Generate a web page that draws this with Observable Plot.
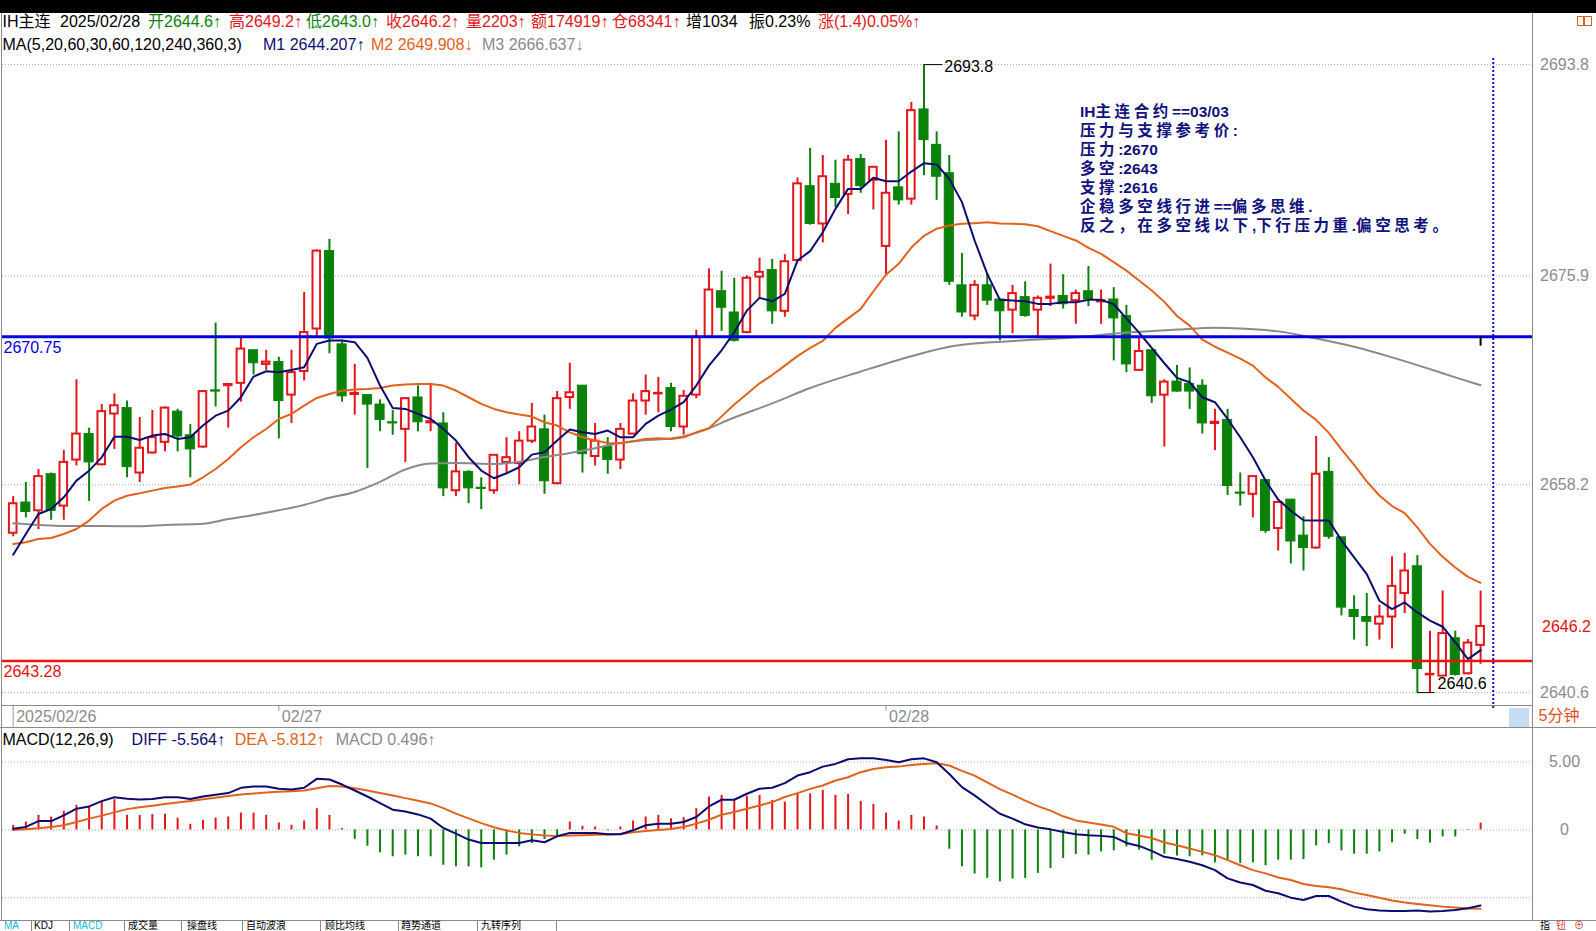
<!DOCTYPE html>
<html><head><meta charset="utf-8">
<script src="https://cdn.jsdelivr.net/npm/d3@7"></script>
<script src="https://cdn.jsdelivr.net/npm/@observablehq/plot@0.6"></script>
<style>
html,body{margin:0;padding:0;background:#fff;overflow:hidden;}
#page{position:relative;width:1596px;height:931px;overflow:hidden;background:#fff;font-family:"Liberation Sans",Arial,"Noto Sans CJK SC",sans-serif;}
.abs{position:absolute;white-space:nowrap;line-height:1;}
</style></head><body><div id="page"></div>
<script>
// ---------- DATA (5-minute bars, IH主连, 02/26 partial, 02/27, 02/28) ----------
const opens = [2654.1,2656.7,2656.0,2659.1,2656.4,2660.3,2662.5,2659.9,2664.2,2664.7,
2659.2,2660.9,2661.8,2664.4,2662.4,2661.4,2666.2,2666.6,2666.8,2669.6,
2668.4,2668.6,2665.8,2667.8,2671.4,2678.0,2670.1,2665.85,2665.8,2665.0,
2663.5,2662.9,2665.6,2663.45,2663.4,2657.7,2659.3,2657.95,2657.7,2660.1,
2660.0,2661.9,2662.9,2658.3,2665.6,2666.6,2660.6,2661.4,2660.3,2662.5,
2665.3,2665.9,2666.4,2663.1,2665.8,2670.7,2674.6,2672.8,2671.1,2675.8,
2676.4,2672.9,2677.2,2683.5,2680.3,2683.7,2682.8,2685.8,2684.0,2678.4,
2683.4,2682.4,2690.0,2687.0,2684.6,2675.1,2672.5,2675.1,2673.9,2673.0,
2674.1,2673.0,2674.0,2674.2,2673.8,2674.6,2673.7,2673.9,2672.5,2667.9,
2669.6,2665.8,2666.95,2666.75,2666.6,2663.4,2663.7,2657.55,2657.4,2658.6,
2654.5,2656.95,2653.9,2652.85,2659.3,2653.75,2647.6,2647.0,2646.4,2647.0,
2649.0,2651.3,2642.1,2642.0,2645.2,2642.2,2644.6];
const highs = [2657.2,2658.4,2659.5,2659.2,2661.1,2667.1,2663.0,2665.0,2665.9,2665.3,
2663.9,2664.5,2664.8,2664.6,2663.3,2666.2,2671.9,2666.8,2670.7,2669.6,
2669.6,2669.0,2669.6,2674.5,2678.1,2679.0,2670.4,2668.4,2665.8,2665.4,
2664.5,2665.6,2666.6,2666.8,2664.3,2661.7,2659.4,2658.8,2660.7,2662.2,
2662.7,2665.1,2664.1,2666.1,2668.5,2666.6,2663.4,2662.2,2663.4,2665.9,
2667.5,2667.3,2666.8,2666.2,2671.3,2676.5,2676.3,2675.7,2675.9,2677.4,
2677.3,2677.7,2684.2,2686.7,2686.1,2685.7,2686.1,2686.2,2685.1,2687.4,
2688.1,2690.6,2693.8,2688.1,2686.1,2677.8,2675.5,2676.1,2674.0,2675.1,
2675.4,2674.2,2676.9,2676.0,2674.7,2676.7,2674.7,2674.9,2673.4,2670.7,
2669.6,2667.1,2668.3,2668.1,2667.1,2664.6,2664.6,2659.2,2658.9,2658.6,
2656.8,2656.95,2655.5,2662.3,2660.5,2653.75,2648.8,2649.0,2648.0,2652.1,
2652.4,2652.2,2645.8,2649.2,2645.8,2645.1,2649.2];
const lows = [2653.8,2655.4,2654.4,2655.2,2655.2,2659.8,2656.8,2659.8,2661.2,2658.8,
2658.4,2660.8,2661.0,2661.0,2658.8,2661.3,2664.8,2663.0,2665.2,2667.5,
2667.9,2662.1,2663.4,2667.0,2670.7,2669.3,2665.2,2664.1,2659.6,2662.7,
2662.4,2660.1,2662.7,2662.7,2657.2,2657.2,2656.6,2656.1,2657.4,2659.2,
2658.2,2661.7,2657.4,2658.2,2664.6,2659.2,2659.8,2659.1,2659.5,2662.5,
2664.1,2664.3,2662.7,2662.4,2665.5,2670.65,2671.2,2670.3,2671.0,2674.0,
2671.8,2672.4,2677.2,2680.2,2678.7,2681.7,2681.1,2682.9,2681.5,2676.0,
2681.9,2681.9,2684.4,2682.3,2675.1,2672.4,2672.1,2673.4,2670.4,2671.0,
2672.4,2670.8,2673.3,2673.1,2671.8,2673.3,2671.8,2668.7,2667.7,2667.9,
2665.1,2661.4,2666.05,2664.6,2662.5,2661.1,2657.3,2656.4,2655.4,2654.1,
2652.6,2651.5,2650.9,2652.75,2653.6,2647.1,2645.05,2644.5,2645.05,2644.3,
2647.3,2640.6,2640.6,2642.0,2642.0,2642.1,2643.0];
const closes = [2656.6,2655.9,2658.9,2656.0,2660.1,2662.5,2660.1,2664.4,2664.9,2659.7,
2661.3,2662.2,2664.7,2662.3,2661.2,2666.1,2666.1,2666.7,2669.7,2668.5,
2668.6,2665.3,2667.7,2671.1,2678.0,2670.6,2665.7,2665.95,2665.0,2663.7,
2663.4,2665.5,2663.5,2663.55,2657.9,2659.3,2657.9,2657.85,2660.7,2660.5,
2661.9,2663.1,2658.5,2665.5,2666.0,2660.8,2661.9,2660.3,2662.9,2665.3,
2666.1,2665.95,2663.1,2665.7,2670.7,2674.7,2673.2,2670.4,2675.7,2676.2,
2672.9,2677.1,2683.7,2680.3,2684.3,2682.5,2685.7,2683.5,2685.1,2682.9,
2682.3,2689.9,2687.4,2684.3,2675.4,2672.8,2675.1,2673.8,2672.9,2674.4,
2672.5,2674.0,2674.1,2673.5,2674.4,2673.9,2673.8,2672.3,2668.4,2669.5,
2665.7,2666.9,2666.1,2666.1,2663.4,2663.5,2658.1,2657.45,2658.9,2654.3,
2656.7,2653.4,2652.85,2659.1,2653.8,2647.8,2647.0,2646.6,2647.0,2649.6,
2650.9,2642.6,2642.15,2645.6,2642.1,2644.8,2646.2];
// moving averages
const ma5 = [2652.28,2654.04,2655.73,2656.15,2657.14,2658.56,2659.4,2660.53,2662.28,2662.28,
2662.0,2662.37,2662.51,2662.09,2662.23,2663.22,2664.06,2664.49,2665.62,2667.37,
2667.82,2667.74,2667.93,2668.16,2670.14,2670.42,2670.42,2670.28,2668.95,2666.61,
2664.71,2664.63,2664.21,2663.78,2662.94,2661.95,2660.54,2659.41,2658.76,2659.18,
2659.69,2660.76,2660.96,2661.95,2662.88,2662.65,2662.51,2662.8,2662.23,2662.23,
2663.36,2664.07,2664.58,2665.2,2666.61,2668.3,2669.6,2671.13,2672.96,2674.04,
2673.75,2674.38,2677.2,2678.0,2679.6,2681.58,2683.27,2683.27,2684.21,2683.92,
2683.92,2684.74,2685.45,2685.34,2684.12,2682.15,2678.9,2676.07,2673.87,2673.81,
2673.75,2673.53,2673.53,2673.67,2673.67,2673.87,2673.87,2673.5,2672.3,2671.1,
2669.8,2668.5,2667.26,2666.89,2665.62,2665.2,2663.78,2662.23,2660.53,2658.56,
2656.95,2656.01,2655.2,2655.17,2655.17,2653.5,2652.05,2650.64,2648.38,2647.67,
2648.24,2647.39,2646.69,2646.18,2644.85,2643.44,2644.2];
const ma20 = [2653.19,2653.33,2653.61,2653.7,2654.04,2654.46,2655.17,2656.16,2656.86,2657.28,
2657.48,2657.71,2657.93,2658.05,2658.22,2658.84,2659.54,2660.39,2661.38,2662.23,
2662.93,2663.78,2664.21,2664.91,2665.56,2665.9,2666.18,2666.27,2666.32,2666.41,
2666.61,2666.69,2666.75,2666.75,2666.61,2666.19,2665.62,2665.06,2664.63,2664.35,
2664.15,2663.98,2663.5,2663.22,2662.65,2662.23,2661.95,2661.75,2661.72,2661.89,
2662.09,2662.15,2662.09,2662.23,2662.65,2663.0,2664.0,2665.0,2665.9,2666.8,
2667.5,2668.3,2669.1,2669.8,2670.4,2671.5,2672.3,2673.1,2674.6,2676.0,
2676.92,2678.3,2679.3,2679.9,2680.17,2680.31,2680.37,2680.45,2680.34,2680.31,
2680.28,2680.11,2679.69,2679.29,2678.9,2678.27,2677.77,2677.06,2676.35,2675.51,
2674.66,2673.7,2672.5,2671.69,2670.5,2669.9,2669.4,2668.9,2668.3,2667.3,
2666.5,2665.5,2664.5,2663.7,2662.6,2661.2,2659.9,2658.5,2657.3,2656.4,
2655.8,2654.6,2653.2,2652.1,2651.2,2650.4,2649.9];
const ma60Bars = [0,2,4,7,10,12,15,17,19,21,23,25,27,29,31,33,35,38,40,42,44,46,48,50,52,54,57,60,63,67,71,74,77,80,84,88,92,95,97,100,103,106,109,112,114,116];
const ma60Vals = [2654.94,2654.8,2654.71,2654.71,2654.69,2654.8,2654.9,2655.3,2655.65,2656.05,2656.5,2657.1,2657.6,2658.45,2659.5,2660.0,2660.05,2659.97,2660.15,2660.55,2660.9,2661.3,2661.75,2662.0,2662.12,2662.6,2663.9,2665.1,2666.4,2667.8,2669.1,2669.9,2670.25,2670.45,2670.7,2671.1,2671.35,2671.5,2671.45,2671.2,2670.6,2669.9,2669.0,2668.0,2667.3,2666.64];
// MACD(12,26,9)
const diff = [0.09,0.22,0.65,0.65,1.07,1.56,1.73,2.12,2.41,2.29,
2.24,2.27,2.41,2.41,2.27,2.46,2.59,2.71,3.1,3.2,
3.2,3.03,2.98,3.1,3.76,3.71,3.34,2.9,2.46,1.97,
1.49,1.36,1.14,0.83,0.14,-0.27,-0.71,-0.96,-0.96,-0.96,
-0.96,-0.76,-0.91,-0.47,-0.22,-0.22,-0.22,-0.32,-0.32,-0.03,
0.34,0.46,0.46,0.58,0.95,1.73,2.22,2.22,2.66,3.03,
3.1,3.44,4.0,4.25,4.66,4.86,5.2,5.27,5.27,5.15,
4.98,5.2,5.27,4.98,4.12,3.15,2.54,1.85,1.19,0.83,
0.41,0.17,0.04,-0.15,-0.32,-0.4,-0.44,-0.52,-0.96,-1.18,
-1.54,-1.98,-2.15,-2.35,-2.6,-2.96,-3.57,-3.87,-4.06,-4.48,
-4.67,-4.99,-5.16,-4.87,-4.87,-5.28,-5.65,-5.84,-5.94,-5.97,
-5.97,-5.94,-6.01,-5.97,-5.89,-5.77,-5.564];
const dea = [0.0,0.04,0.12,0.22,0.34,0.58,0.83,1.05,1.29,1.53,
1.66,1.78,1.9,2.02,2.12,2.25,2.37,2.49,2.61,2.68,
2.76,2.81,2.85,2.9,3.07,3.24,3.19,3.07,2.9,2.71,
2.54,2.34,2.15,1.95,1.6,1.2,0.85,0.5,0.2,-0.05,
-0.22,-0.33,-0.42,-0.45,-0.42,-0.39,-0.36,-0.33,-0.3,-0.18,
-0.08,0.0,0.07,0.22,0.46,0.75,1.12,1.32,1.56,1.8,
2.05,2.42,2.71,3.02,3.27,3.64,3.88,4.25,4.49,4.61,
4.66,4.78,4.86,4.91,4.74,4.35,4.0,3.5,3.0,2.6,
2.15,1.75,1.42,1.0,0.7,0.55,0.39,0.23,-0.24,-0.42,
-0.6,-0.93,-1.13,-1.37,-1.62,-1.86,-2.23,-2.6,-2.96,-3.2,
-3.5,-3.69,-3.98,-4.13,-4.23,-4.37,-4.62,-4.79,-4.99,-5.2,
-5.35,-5.45,-5.55,-5.65,-5.72,-5.78,-5.812];
const macdHist = [0.33,0.58,1.07,0.95,1.37,1.81,1.68,2.1,2.22,1.07,
1.07,1.12,1.15,0.87,0.41,0.7,0.87,0.95,1.24,1.24,
1.07,0.51,0.34,0.66,1.56,1.07,0.1,-0.69,-1.2,-1.69,
-1.98,-1.86,-1.98,-1.98,-2.6,-2.72,-2.72,-2.79,-2.23,-1.86,
-1.25,-1.0,-0.71,-0.5,0.58,0.26,0.22,-0.05,0.22,0.66,
0.95,1.07,0.83,0.9,1.56,2.42,2.54,2.22,2.49,2.54,
2.17,2.05,2.66,2.66,2.9,2.54,2.61,2.1,1.88,1.24,
0.65,1.07,0.95,0.29,-1.42,-2.71,-3.25,-3.57,-3.82,-3.62,
-3.57,-3.2,-2.84,-2.1,-1.81,-1.86,-1.62,-1.54,-1.25,-1.49,
-2.23,-1.79,-1.93,-1.98,-1.91,-2.43,-2.23,-2.47,-2.42,-2.64,
-2.23,-2.23,-2.18,-1.18,-1.0,-1.54,-1.79,-1.79,-1.62,-0.96,
-0.32,-0.71,-0.96,-0.52,-0.52,-0.03,0.496];
const priceTicks = [2640.6, 2658.2, 2675.9, 2693.8];
const keyLevels = [2670.75, 2643.28];
const macdTicks = [0, 5];
const macdGrid = [-5, 0, 5];
const dateBars = [0, 21, 69];
const dateLabels = ["2025/02/26", "02/27", "02/28"];
const noteLines = ["IH主连合约==03/03","压力与支撑参考价:","压力:2670","多空:2643","支撑:2616","企稳多空线行进==偏多思维.","反之，在多空线以下,下行压力重.偏空思考。"];
const tabLabels = ["MA","KDJ","MACD","成交量","操盘线","自动波浪","顾比均线","趋势通道","九转序列"];

// ---------- STYLE ----------
const RED = "#e3161b", GREEN = "#0a820a", NAVY = "#0c0c70", ORANGE = "#e2621c", GRAYMA = "#8a8a8a", AXIS = "#8c8c8c";
const FONT = "'Liberation Sans', Arial, 'Noto Sans CJK SC', sans-serif";
const page = document.getElementById("page");

const bars = opens.map((o, i) => ({i, o, h: highs[i], l: lows[i], c: closes[i]}));
const upBars = bars.filter(d => d.c >= d.o);
const dnBars = bars.filter(d => d.c < d.o);
const hiI = d3.maxIndex(highs), loI = d3.minIndex(lows);
const lastI = closes.length - 1;
const xOpt = {type: "linear", domain: [0, lastI], range: [12.7, 1480.1], axis: null};
const yDom = [2640.6, 2693.8], yRng = [692.1, 64.1];
const priceAtPx = py => yDom[0] + (py - yRng[0]) * (yDom[1] - yDom[0]) / (yRng[1] - yRng[0]);

const pricePlot = Plot.plot({
  width: 1596, height: 727,
  marginLeft: 2, marginRight: 64, marginTop: 14, marginBottom: 22,
  x: xOpt,
  y: {domain: yDom, range: yRng, axis: null},
  style: {background: "transparent", fontFamily: FONT, fontSize: "16px", overflow: "visible"},
  marks: [
    Plot.ruleY(priceTicks, {stroke: "#a8a8a8", strokeDasharray: "1,2"}),
    Plot.ruleX(upBars, {x: "i", y1: "l", y2: "h", stroke: RED, strokeWidth: 2}),
    Plot.ruleX(dnBars, {x: "i", y1: "l", y2: "h", stroke: GREEN, strokeWidth: 2}),
    Plot.rect(upBars, {x1: d => d.i - 0.3, x2: d => d.i + 0.3, y1: "o", y2: "c", fill: "white", stroke: RED, strokeWidth: 2}),
    Plot.rect(dnBars, {x1: d => d.i - 0.36, x2: d => d.i + 0.36, y1: "o", y2: "c", fill: GREEN, stroke: GREEN, strokeWidth: 1}),
    Plot.line(ma60Vals, {x: (d, k) => ma60Bars[k], y: d => d, stroke: GRAYMA, strokeWidth: 2, curve: "monotone-x"}),
    Plot.line(ma20, {x: (d, k) => k, y: d => d, stroke: ORANGE, strokeWidth: 2}),
    Plot.line(ma5, {x: (d, k) => k, y: d => d, stroke: NAVY, strokeWidth: 2}),
    Plot.ruleY([keyLevels[0]], {stroke: "#0000dd", strokeWidth: 3}),
    Plot.ruleY([keyLevels[1]], {stroke: "#f01010", strokeWidth: 2.5}),
    Plot.text([keyLevels[0]], {y: d => d, text: d => d.toFixed(2), frameAnchor: "left", textAnchor: "start", dx: 1, dy: 11, fill: "#0000dd", fontSize: 16}),
    Plot.text([keyLevels[1]], {y: d => d, text: d => d.toFixed(2), frameAnchor: "left", textAnchor: "start", dx: 1, dy: 11, fill: "#e01010", fontSize: 16}),
    // last-bar marker and "next bar" dotted line
    Plot.ruleX([lastI], {y1: keyLevels[0], y2: keyLevels[0] - 0.8, stroke: "black", strokeWidth: 2}),
    Plot.ruleX([lastI + 1], {y1: priceAtPx(58), y2: priceAtPx(708), stroke: "#1010c0", strokeWidth: 2, strokeDasharray: "2,2"}),
    // high / low annotations
    Plot.ruleY([highs[hiI]], {x1: hiI, x2: hiI + 1.5, stroke: "black", strokeWidth: 1}),
    Plot.text([highs[hiI]], {x: hiI + 1.6, y: d => d, text: d => d.toFixed(1), textAnchor: "start", dy: 2, fill: "black", fontSize: 16}),
    Plot.ruleY([lows[loI]], {x1: loI, x2: loI + 1.4, stroke: "black", strokeWidth: 1}),
    Plot.text([lows[loI]], {x: loI + 1.6, y: d => d, text: d => d.toFixed(1), textAnchor: "start", lineAnchor: "bottom", dy: -4, fill: "black", fontSize: 16}),
    // right axis labels
    Plot.text(priceTicks, {y: d => d, text: d => d.toFixed(1), frameAnchor: "right", dx: 32, textAnchor: "middle", fill: AXIS, fontSize: 16}),
    Plot.text([closes[lastI]], {y: d => d, text: d => d.toFixed(1), frameAnchor: "right", dx: 34, textAnchor: "middle", fill: "#e01010", fontSize: 16}),
    // date axis
    Plot.ruleX(dateBars, {x: d => d, y1: priceAtPx(705), y2: (d, k) => priceAtPx(k === 0 ? 727 : 711), stroke: "#999", strokeWidth: 1}),
    Plot.text(dateBars, {x: d => d, text: (d, k) => dateLabels[k], frameAnchor: "bottom", dy: 16, dx: 3, textAnchor: "start", fill: AXIS, fontSize: 16})
  ]
});
pricePlot.style.position = "absolute"; pricePlot.style.left = "0px"; pricePlot.style.top = "0px";
page.appendChild(pricePlot);

const macdPlot = Plot.plot({
  width: 1596, height: 194,
  marginLeft: 2, marginRight: 64, marginTop: 0, marginBottom: 0,
  x: xOpt,
  y: {domain: [-5, 5], range: [170.3, 34.5], axis: null},
  style: {background: "transparent", fontFamily: FONT, fontSize: "16px", overflow: "visible"},
  marks: [
    Plot.ruleY(macdGrid, {stroke: "#a8a8a8", strokeDasharray: "1,2"}),
    Plot.ruleX(macdHist.map((v, i) => ({i, v})).filter(d => d.v >= 0), {x: "i", y1: 0, y2: "v", stroke: RED, strokeWidth: 2}),
    Plot.ruleX(macdHist.map((v, i) => ({i, v})).filter(d => d.v < 0), {x: "i", y1: 0, y2: "v", stroke: GREEN, strokeWidth: 2}),
    Plot.line(dea, {x: (d, k) => k, y: d => d, stroke: ORANGE, strokeWidth: 2}),
    Plot.line(diff, {x: (d, k) => k, y: d => d, stroke: NAVY, strokeWidth: 2}),
    Plot.text(macdTicks, {y: d => d, text: d => d === 0 ? "0" : d.toFixed(2), frameAnchor: "right", dx: 32, textAnchor: "middle", fill: AXIS, fontSize: 16})
  ]
});
macdPlot.style.position = "absolute"; macdPlot.style.left = "0px"; macdPlot.style.top = "727px";
page.appendChild(macdPlot);

// ---------- FRAME / CHROME ----------
function box(l, t, w, h, bg, extra) {
  const d = document.createElement("div");
  d.style.cssText = `position:absolute;left:${l}px;top:${t}px;width:${w}px;height:${h}px;background:${bg};${extra || ""}`;
  page.appendChild(d); return d;
}
box(0, 0, 1596, 13, "#000");
box(1, 13, 1, 908, "#8a8a8a");
box(1532, 13, 1, 908, "#8a8a8a");
box(1, 705, 1531, 1, "#8a8a8a");
box(0, 727, 1596, 1, "#8a8a8a");
box(0, 920, 1596, 1, "#8a8a8a");
box(1509, 708, 20, 19, "#c6dcf3");
box(1577, 16, 7, 10, "transparent", "border:1px solid #e06020;box-sizing:border-box;");
box(1584, 16, 8, 10, "transparent", "border:1px solid #e06020;box-sizing:border-box;");

function addText(x, yc, html, color, size, weight) {
  size = size || 16;
  const d = document.createElement("div");
  d.className = "abs";
  d.style.left = x + "px";
  d.style.top = (yc - size * 0.49) + "px";
  d.style.fontSize = size + "px";
  d.style.color = color || "#000";
  if (weight) d.style.fontWeight = weight;
  d.innerHTML = html;
  page.appendChild(d);
  return d;
}
const lastO = opens[lastI].toFixed(1), lastH = highs[lastI].toFixed(1), lastL = lows[lastI].toFixed(1), lastC = closes[lastI].toFixed(1);
[[2.5, "IH主连", "#000"], [60, "2025/02/28", "#000"], [148, "开" + lastO + "↑", GREEN], [229, "高" + lastH + "↑", RED],
 [306, "低" + lastL + "↑", GREEN], [386, "收" + lastC + "↑", RED], [466, "量2203↑", RED], [531, "额174919↑", RED],
 [612, "仓68341↑", RED], [686, "增1034", "#000"], [749, "振0.23%", "#000"], [818, "涨(1.4)0.05%↑", RED]]
  .forEach(([x, t, c]) => addText(x, 22, t, c));
[[2.5, "MA(5,20,60,30,60,120,240,360,3)", "#000"], [263, "M1 2644.207↑", NAVY],
 [371, "M2 2649.908↓", ORANGE], [482, "M3 2666.637↓", GRAYMA]]
  .forEach(([x, t, c]) => addText(x, 45, t, c));
[[2.5, "MACD(12,26,9)", "#000"], [131.6, "DIFF " + diff[lastI].toFixed(3) + "↑", NAVY],
 [234.7, "DEA " + dea[lastI].toFixed(3) + "↑", ORANGE], [335.7, "MACD " + macdHist[lastI].toFixed(3) + "↑", GRAYMA]]
  .forEach(([x, t, c]) => addText(x, 740, t, c));
addText(1538.6, 716, "5分钟", "#e0501e");

// annotation block
const wrapCJK = s => s.replace(/([\u3000-\u9fff\uff00-\uffef]+)/g, '<span style="letter-spacing:3.6px;font-size:15.5px">$1</span>');
noteLines.forEach((s, k) => addText(1080, 111.7 + k * 18.9, wrapCJK(s), "#12127c", 15.5, "bold"));

// bottom tabs (small so they fit under the frame)
const tabX = [4, 34, 73, 128, 187, 246, 325, 401, 481];
const tabSep = [30.6, 68.9, 124, 181, 242, 320, 398, 477, 556];
tabLabels.forEach((t, k) => addText(tabX[k], 926, t, (t === "MA" || t === "MACD") ? "#10b8e8" : "#000", 10));
tabSep.forEach(x => box(x, 921, 1, 10, "#888"));
addText(1540, 926, "指", "#000", 10); addText(1556, 926, "钮", "#e04040", 10); addText(1574, 926, "⊕", "#e04040", 10);
</script>
</body></html>
